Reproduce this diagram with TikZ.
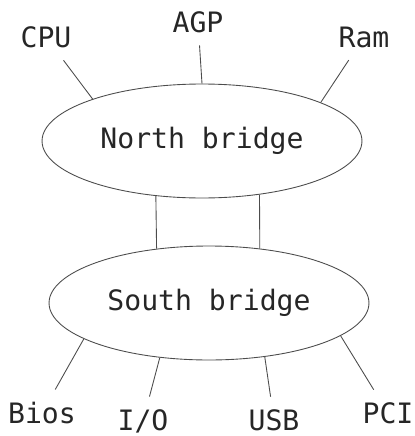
\documentclass[tikz,border=0pt]{standalone}
\usepackage{fontspec}
\setmonofont{DejaVu Sans Mono}
\usetikzlibrary{shapes.geometric}

\begin{document}
\begin{tikzpicture}[x=0.02cm,y=-0.02cm,inner sep=7pt,
  font=\ttfamily\fontsize{16}{19}\selectfont,text=black!85,
  bridge/.style={ellipse,draw=black!70,line width=0.5pt,inner sep=0pt,
    minimum width=6.4cm,minimum height=2.28cm},
  link/.style={draw=black!70,line width=0.5pt}]

\useasboundingbox (0,0) rectangle (415,436);

\node[bridge] (north) at (202,141) {North bridge};
\node[bridge] (south) at (209,303) {South bridge};

\node (cpu) at (46,37) {CPU};
\node (agp) at (198,22) {AGP};
\node (ram) at (364,37) {Ram};
\node (bios) at (42,413) {Bios};
\node (io) at (143,421) {I/O};
\node (usb) at (274,420) {USB};
\node (pci) at (388,413) {PCI};

\path[link]
	(cpu) edge (north.159) (agp) edge (north.90) (ram) edge (north.18)
	(north.230.6) edge (south.134.5) (north.-43.6) edge (south.47.4);
\path[link]
	(bios) edge (south.196) (io) edge (south.228)
	(usb) edge (south.-44) (pci) edge (south.-14);

\end{tikzpicture}
\end{document}
